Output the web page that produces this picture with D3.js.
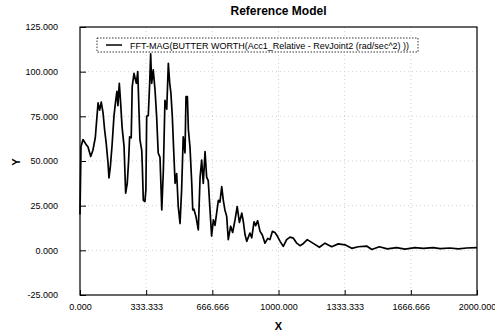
<!DOCTYPE html>
<html>
<head>
<meta charset="utf-8">
<script src="https://cdn.jsdelivr.net/npm/d3@7"></script>
<style>
  body { margin: 0; background: #fff; }
  .tick text { font: 9px "Liberation Sans", Arial, sans-serif; fill: #000; }
  .grid line { stroke: #d0d0d0; stroke-dasharray: 1,3; }
</style>
</head>
<body>
<svg id="chart" width="495" height="331"></svg>
<script>
// FFT magnitude
var freq = [0, 5, 15, 32, 40, 54, 65, 77, 91, 99, 107, 116, 124, 132, 141, 146, 153, 161, 171, 180,
  186, 191, 198, 205, 212, 222, 230, 238, 245, 250, 258, 263, 272, 284, 291, 297, 302, 311, 314, 319,
  327, 332, 336, 344, 351, 356, 361, 369, 378, 386, 394, 403, 412, 420, 428, 437, 445, 452, 458, 465,
  472, 479, 487, 495, 504, 512, 520, 529, 534, 541, 546, 554, 563, 568, 574, 584, 596, 605, 613, 621,
  630, 638, 646, 655, 663, 672, 680, 697, 705, 714, 722, 730, 739, 747, 759, 769, 781, 792, 803, 815,
  823, 831, 840, 856, 865, 877, 885, 895, 907, 918, 932, 946, 957, 969, 982, 994, 1008, 1024, 1041, 1058,
  1075, 1092, 1108, 1122, 1145, 1175, 1206, 1234, 1268, 1301, 1335, 1369, 1402, 1444, 1470, 1508, 1548, 1595, 1637, 1688,
  1729, 1780, 1814, 1864, 1906, 1948, 2000];
var mag = [20, 58, 62, 59, 58, 52.5, 56, 63, 82.5, 78.5, 83, 77, 67.5, 60, 49, 40.5, 47, 58, 75, 84,
  89, 81, 93.5, 82, 69, 58, 32, 37.5, 50.5, 63.5, 63, 91.6, 99, 93.5, 100, 78.5, 62, 56, 47, 28,
  27.3, 34, 75, 75.5, 93.5, 110, 93.5, 101, 89.7, 75, 54.5, 52, 22.6, 45, 84, 79, 104.7, 93.5, 88, 75,
  56, 37.5, 43, 24.5, 15, 34, 63.5, 54.5, 86, 86, 67.5, 58, 37.5, 22.6, 23, 19, 11.4, 41, 50.5, 37.5,
  55.3, 41, 39, 22.6, 8, 17, 14, 28, 27, 35.7, 28, 22.6, 19, 6, 13.5, 10, 17, 24.5, 15.6, 20.8,
  16, 9, 5, 9.7, 7, 16, 13.8, 16.6, 10.6, 8.7, 4, 6.7, 6, 10.6, 10, 8, 5, 2.2, 6, 7.4,
  6.8, 4, 2.6, 3.5, 6, 3.9, 1.7, 4, 2, 3.6, 3.1, 1.1, 2, 2.4, 0.5, 2, 0.8, 1.5, 0.7, 1.5,
  1.1, 1.5, 1, 1.3, 0.8, 1.3, 1.5];

var xTicks = [0, 333.333, 666.666, 1000, 1333.333, 1666.666, 2000];
var xTickLabels = ["0.000", "333.333", "666.666", "1000.000", "1333.333", "1666.666", "2000.000"];
var yTicks = [-25, 0, 25, 50, 75, 100, 125];
var yTickLabels = ["-25.000", "0.000", "25.000", "50.000", "75.000", "100.000", "125.000"];

var svg = d3.select("#chart"),
    plotLeft = 80, plotRight = 477, plotTop = 27, plotBottom = 295;

var x = d3.scaleLinear().domain([0, 2000]).range([plotLeft, plotRight]);
var y = d3.scaleLinear().domain([-25, 125]).range([plotBottom, plotTop]);

// dotted grid
svg.append("g").attr("class", "grid")
  .selectAll("line").data(xTicks.slice(1, -1)).enter().append("line")
    .attr("x1", function(d) { return x(d); }).attr("x2", function(d) { return x(d); })
    .attr("y1", plotTop).attr("y2", plotBottom);
svg.append("g").attr("class", "grid")
  .selectAll("line").data(yTicks.slice(1, -1)).enter().append("line")
    .attr("y1", function(d) { return y(d); }).attr("y2", function(d) { return y(d); })
    .attr("x1", plotLeft).attr("x2", plotRight);

svg.append("g")
  .attr("transform", "translate(0," + plotBottom + ")")
  .call(d3.axisBottom(x).tickValues(xTicks)
    .tickFormat(function(d, i) { return xTickLabels[i]; })
    .tickSizeInner(-5).tickSizeOuter(0).tickPadding(9));

svg.append("g")
  .attr("transform", "translate(" + plotLeft + ",0)")
  .call(d3.axisLeft(y).tickValues(yTicks)
    .tickFormat(function(d, i) { return yTickLabels[i]; })
    .tickSizeInner(-6).tickSizeOuter(0).tickPadding(22));

svg.selectAll(".domain").remove();
svg.selectAll(".tick line").attr("stroke", "#000");

svg.append("rect")
  .attr("x", plotLeft).attr("y", plotTop)
  .attr("width", plotRight - plotLeft).attr("height", plotBottom - plotTop)
  .attr("fill", "none").attr("stroke", "#000").attr("stroke-width", 1.2);

var line = d3.line()
  .x(function(d, i) { return x(freq[i]); })
  .y(function(d) { return y(d); });

svg.append("path")
  .datum(mag)
  .attr("d", line)
  .attr("fill", "none")
  .attr("stroke", "#000")
  .attr("stroke-width", 1.7)
  .attr("stroke-linejoin", "round");

// legend
var legend = svg.append("g");
legend.append("rect")
  .attr("x", 97).attr("y", 38).attr("width", 321).attr("height", 14)
  .attr("fill", "#fff").attr("stroke", "#000").attr("stroke-width", 0.8)
  .attr("stroke-dasharray", "1.5,1.5");
legend.append("line")
  .attr("x1", 106).attr("x2", 122).attr("y1", 45).attr("y2", 45)
  .attr("stroke", "#000").attr("stroke-width", 1.5);
legend.append("text")
  .attr("x", 130).attr("y", 48.5)
  .style("font", "9px 'Liberation Sans', Arial, sans-serif")
  .text("FFT-MAG(BUTTER WORTH(Acc1_Relative - RevJoint2 (rad/sec^2) ))");

svg.append("text")
  .attr("x", (plotLeft + plotRight) / 2).attr("y", 15)
  .attr("text-anchor", "middle")
  .style("font", "bold 12px 'Liberation Sans', Arial, sans-serif")
  .text("Reference Model");

svg.append("text")
  .attr("x", (plotLeft + plotRight) / 2).attr("y", 330)
  .attr("text-anchor", "middle")
  .style("font", "bold 11px 'Liberation Sans', Arial, sans-serif")
  .text("X");

svg.append("text")
  .attr("transform", "translate(20,162) rotate(-90)")
  .attr("text-anchor", "middle")
  .style("font", "bold 11px 'Liberation Sans', Arial, sans-serif")
  .text("Y");
</script>
</body>
</html>
